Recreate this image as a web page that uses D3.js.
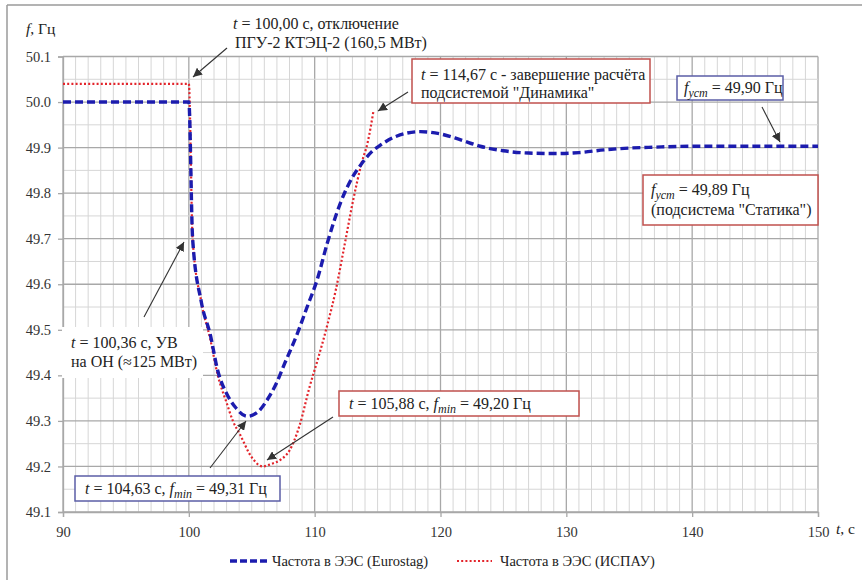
<!DOCTYPE html>
<html>
<head>
<meta charset="utf-8">
<script src="https://cdn.jsdelivr.net/npm/d3@7"></script>
<style>
  body { margin: 0; background: #fff; }
  svg text { font-family: "Liberation Serif", "Times New Roman", serif; }
</style>
</head>
<body>
<script>
// frequency data
const tBlue = [90, 100, 100.3, 101, 101.7, 102.3, 103, 103.7, 104.63, 105.5, 106.2, 107, 107.6, 108.6, 109.4, 110.2, 111, 112, 113, 113.74, 114.5, 115.2, 116.5, 118.4, 120, 121.5, 123.15, 125, 127, 129, 131, 133, 135, 137, 140, 145, 150];
const fBlue = [50.0, 50.0, 49.70, 49.56, 49.49, 49.41, 49.36, 49.33, 49.31, 49.32, 49.345, 49.385, 49.425, 49.49, 49.55, 49.61, 49.69, 49.775, 49.835, 49.865, 49.89, 49.905, 49.925, 49.935, 49.93, 49.918, 49.903, 49.893, 49.888, 49.887, 49.889, 49.895, 49.899, 49.901, 49.903, 49.903, 49.903];

const tRed = [90, 100, 100.3, 101, 101.7, 102.3, 103, 103.5, 104.07, 105, 105.88, 106.5, 107.3, 108, 108.8, 109.6, 110.3, 111, 111.7, 112.3, 113.07, 113.74, 114.2, 114.67];
const fRed = [50.04, 50.04, 49.70, 49.56, 49.48, 49.40, 49.34, 49.30, 49.27, 49.22, 49.20, 49.205, 49.215, 49.235, 49.29, 49.375, 49.44, 49.51, 49.59, 49.675, 49.786, 49.867, 49.91, 49.98];

const xTicks = [90, 100, 110, 120, 130, 140, 150];
const yTicks = [49.1, 49.2, 49.3, 49.4, 49.5, 49.6, 49.7, 49.8, 49.9, 50.0, 50.1];

const W = 862, H = 580;
const svg = d3.select("body").append("svg").attr("width", W).attr("height", H);

// frame of the picture (only left and top are visible)
svg.append("line").attr("x1", 7).attr("y1", 5).attr("x2", W).attr("y2", 5).attr("stroke", "#9a9a9a").attr("stroke-width", 1.5);
svg.append("line").attr("x1", 7).attr("y1", 5).attr("x2", 7).attr("y2", H).attr("stroke", "#9a9a9a").attr("stroke-width", 1.5);

const x = d3.scaleLinear().domain([90, 150]).range([63, 818]);
const y = d3.scaleLinear().domain([49.1, 50.1]).range([512, 56.5]);

// grid: minor every 1 s / 0.05 Hz, major every 10 s / 0.1 Hz
const g = svg.append("g");
g.selectAll("line.v").data(d3.range(90, 151, 1)).enter().append("line")
    .attr("x1", d => x(d)).attr("x2", d => x(d)).attr("y1", y(50.1)).attr("y2", y(49.1))
    .attr("stroke", d => d % 10 === 0 ? "#a8a8a8" : "#d6d6d6").attr("stroke-width", d => d % 10 === 0 ? 1.3 : 1);
g.selectAll("line.h").data(d3.range(0, 21)).enter().append("line")
    .attr("x1", x(90)).attr("x2", x(150)).attr("y1", d => y(49.1 + d * 0.05)).attr("y2", d => y(49.1 + d * 0.05))
    .attr("stroke", d => d % 2 === 0 ? "#a8a8a8" : "#d6d6d6").attr("stroke-width", d => d % 2 === 0 ? 1.3 : 1);

// axes
const xAxis = svg.append("g").attr("transform", `translate(0,${y(49.1)})`)
    .call(d3.axisBottom(x).tickValues(xTicks).tickSize(5).tickPadding(10).tickFormat(d3.format("d")));
const yAxis = svg.append("g").attr("transform", `translate(${x(90)},0)`)
    .call(d3.axisLeft(y).tickValues(yTicks).tickSize(5).tickPadding(7).tickFormat(d3.format(".1f")));
[xAxis, yAxis].forEach(a => {
  a.attr("font-size", 14.5);
  a.select(".domain").attr("stroke", "#a8a8a8").attr("stroke-width", 1.3);
  a.selectAll(".tick line").attr("stroke", "#a8a8a8").attr("stroke-width", 1.3);
  a.selectAll(".tick text").attr("fill", "#333");
});

// axis titles
const fl = svg.append("text").attr("x", 26).attr("y", 34).attr("font-size", 15.5).attr("fill", "#222");
fl.append("tspan").attr("font-style", "italic").text("f");
fl.append("tspan").text(", Гц");
const tl = svg.append("text").attr("x", 836).attr("y", 534).attr("font-size", 15.5).attr("fill", "#222");
tl.append("tspan").attr("font-style", "italic").text("t");
tl.append("tspan").text(", с");

// series
const line = d3.line().x(d => x(d[0])).y(d => y(d[1])).curve(d3.curveMonotoneX);
svg.append("path").datum(d3.zip(tRed, fRed)).attr("d", line)
    .attr("fill", "none").attr("stroke", "#e3242b").attr("stroke-width", 2.2).attr("stroke-dasharray", "2,2.2");
svg.append("path").datum(d3.zip(tBlue, fBlue)).attr("d", line)
    .attr("fill", "none").attr("stroke", "#1c1cae").attr("stroke-width", 3.4).attr("stroke-dasharray", "8,4");

// arrow head
svg.append("defs").append("marker").attr("id", "arr").attr("viewBox", "0 0 10 10")
    .attr("refX", 10).attr("refY", 5).attr("markerWidth", 9).attr("markerHeight", 9).attr("orient", "auto")
    .attr("markerUnits", "userSpaceOnUse")
  .append("path").attr("d", "M0,0 L10,5 L0,10 z").attr("fill", "#333");

function arrow(x1, y1, x2, y2) {
  svg.append("line").attr("x1", x1).attr("y1", y1).attr("x2", x2).attr("y2", y2)
      .attr("stroke", "#333").attr("stroke-width", 1.1).attr("marker-end", "url(#arr)");
}

function box(x0, y0, w, h, color) {
  svg.append("rect").attr("x", x0).attr("y", y0).attr("width", w).attr("height", h)
      .attr("fill", "#fff").attr("stroke", color).attr("stroke-width", color === "none" ? 0 : 1.5);
}

// writes one line of text built from [text, style] parts
function label(x0, y0, parts) {
  const t = svg.append("text").attr("x", x0).attr("y", y0).attr("font-size", 16).attr("fill", "#222");
  parts.forEach(p => {
    const s = t.append("tspan").text(p[0]);
    if (p[1] === "i") s.attr("font-style", "italic");
    if (p[1] === "sub") s.attr("font-style", "italic").attr("font-size", 12).attr("dy", 4);
    if (p[1] === "up") s.attr("dy", -4);
  });
}

const red = "#c0504d", blue = "#5b5ea6";

// annotation: disconnection
label(233, 29, [["t", "i"], [" = 100,00 с, отключение"]]);
label(235, 48, [["ПГУ-2 КТЭЦ-2 (160,5 МВт)"]]);
arrow(227, 48, 193, 77);

// annotation: end of Dinamika
box(412, 59, 238, 44, red);
label(421, 80, [["t", "i"], [" = 114,67 с - завершение расчёта"]]);
label(421, 98, [["подсистемой \"Динамика\""]]);
arrow(408, 92, 378, 111);

// annotation: steady state (Eurostag)
box(677, 76, 106, 24, blue);
label(684, 93, [["f", "i"], ["уст", "sub"], [" = 49,90 Гц", "up"]]);
arrow(762, 107, 780, 142);

// annotation: Statika
box(643, 175, 175, 50, red);
label(651, 195, [["f", "i"], ["уст", "sub"], [" = 49,89 Гц", "up"]]);
label(651, 215, [["(подсистема \"Статика\")"]]);

// annotation: load shedding
box(62, 327, 141, 51, "none");
label(71, 348, [["t", "i"], [" = 100,36 с, УВ"]]);
label(71, 367, [["на ОН (≈125 МВт)"]]);
arrow(144, 317, 184, 242);

// annotation: minimum Eurostag
box(75, 476, 205, 25, blue);
label(85, 494, [["t", "i"], [" = 104,63 с, "], ["f", "i"], ["min", "sub"], [" = 49,31 Гц", "up"]]);
arrow(210, 468, 246, 421);

// annotation: minimum ISPAU
box(339, 391, 240, 25, red);
label(349, 409, [["t", "i"], [" = 105,88 с, "], ["f", "i"], ["min", "sub"], [" = 49,20 Гц", "up"]]);
arrow(333, 417, 267, 460);

// legend
const leg = svg.append("g");
leg.append("line").attr("x1", 230).attr("x2", 268).attr("y1", 561).attr("y2", 561)
    .attr("stroke", "#1c1cae").attr("stroke-width", 3.4).attr("stroke-dasharray", "7,3");
leg.append("text").attr("x", 272).attr("y", 566).attr("font-size", 14.5).attr("fill", "#222").text("Частота в ЭЭС (Eurostag)");
leg.append("line").attr("x1", 457).attr("x2", 492).attr("y1", 561).attr("y2", 561)
    .attr("stroke", "#e3242b").attr("stroke-width", 2.2).attr("stroke-dasharray", "2,2.2");
leg.append("text").attr("x", 500).attr("y", 566).attr("font-size", 14.5).attr("fill", "#222").text("Частота в ЭЭС (ИСПАУ)");
</script>
</body>
</html>
